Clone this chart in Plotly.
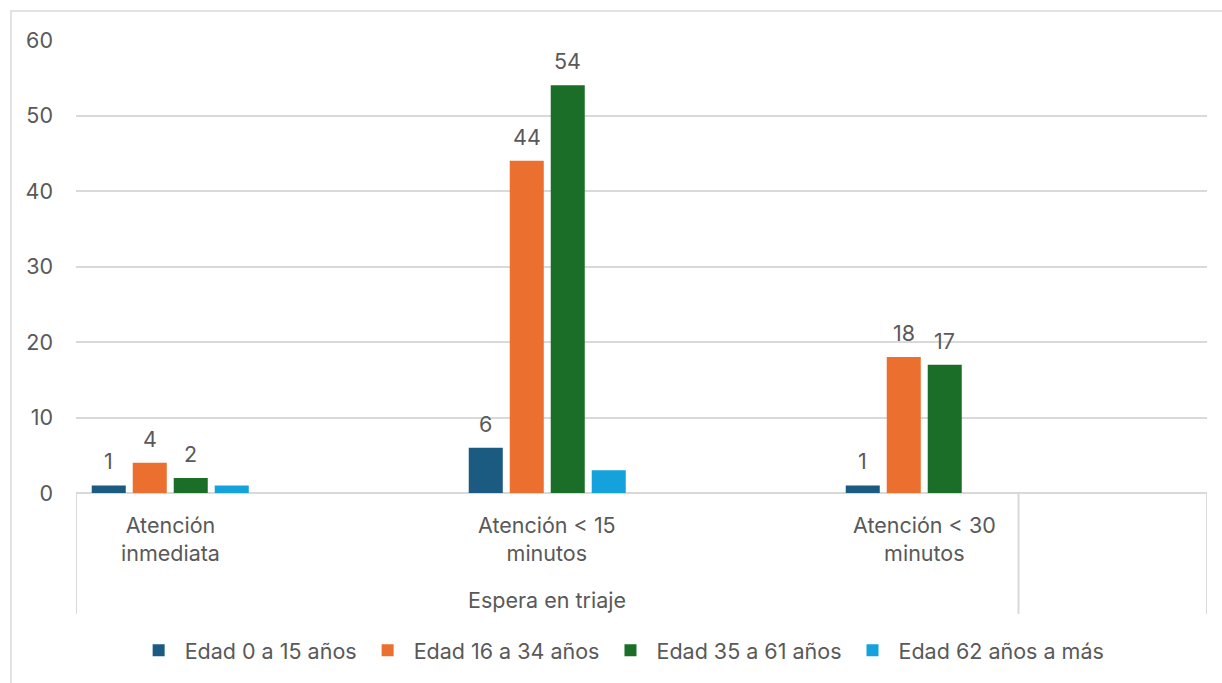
import plotly.graph_objects as go

categories = ["Atención<br>inmediata", "Atención < 15<br>minutos", "Atención < 30<br>minutos"]
parent_label = "Espera en triaje"
series_names = ["Edad 0 a 15 años", "Edad 16 a 34 años", "Edad 35 a 61 años", "Edad 62 años a más"]
values_0_15 = [1, 6, 1]
values_16_34 = [4, 44, 18]
values_35_61 = [2, 54, 17]
values_62_mas = [1, 3, 0]
show_labels = [True, True, True, False]
colors = ["#1b5b82", "#eb6f2f", "#1b6e27", "#14a2dd"]
y_ticks = [0, 10, 20, 30, 40, 50, 60]

series_values = [values_0_15, values_16_34, values_35_61, values_62_mas]

FONT = "Inter, Liberation Sans, Arial, sans-serif"
TXT = "#595959"
GRID = "#d9d9d9"
FS = 21.5

# categories are placed on every second slot (Excel leaves blank slots)
xpos = [2 * i for i in range(len(categories))]
n_slots = 2 * len(categories)
bargap = 0.565
bargroupgap = 0.17
slot = 2 * (1 - bargap) / len(series_names)

fig = go.Figure()
for j, (name, vals, col) in enumerate(zip(series_names, series_values, colors)):
    fig.add_trace(go.Bar(
        x=xpos, y=vals, name=name,
        marker=dict(color=col, line=dict(width=0)),
        hoverinfo="y+name",
    ))

annotations = []
# data labels
for j, vals in enumerate(series_values):
    if not show_labels[j]:
        continue
    for i, v in enumerate(vals):
        annotations.append(dict(
            x=xpos[i] + (j - (len(series_names) - 1) / 2) * slot, y=v,
            xref="x", yref="y", text=str(v), showarrow=False,
            yanchor="bottom", yshift=9,
            font=dict(family=FONT, size=FS, color=TXT),
        ))

# category labels
for i, c in enumerate(categories):
    annotations.append(dict(
        x=xpos[i], y=-0.038, xref="x", yref="paper", text=c, showarrow=False,
        yanchor="top", align="center",
        font=dict(family=FONT, size=FS, color=TXT),
    ))
# parent label
annotations.append(dict(
    x=(xpos[0] + xpos[-1]) / 2, y=-0.236, xref="x", yref="paper", text=parent_label,
    showarrow=False, yanchor="middle",
    font=dict(family=FONT, size=FS, color=TXT),
))

shapes = []
# outer chart border
shapes.append(dict(type="rect", xref="paper", yref="paper",
                   x0=-0.0575, x1=1.03, y0=-0.46, y1=1.064,
                   line=dict(color=GRID, width=1.5), layer="below"))
# multi-level axis dividers
for xv in [-0.5, xpos[-1] + 0.5, n_slots - 0.5]:
    shapes.append(dict(type="line", xref="x", yref="paper",
                       x0=xv, x1=xv, y0=0, y1=-0.267,
                       line=dict(color=GRID, width=2), layer="below"))

fig.update_layout(
    width=1222, height=683,
    margin=dict(l=76, r=15, t=40, b=190),
    paper_bgcolor="white", plot_bgcolor="white",
    barmode="group", bargap=bargap, bargroupgap=bargroupgap,
    font=dict(family=FONT, size=FS, color=TXT),
    showlegend=True,
    legend=dict(orientation="h", x=0.482, xanchor="center", y=-0.347, yanchor="middle",
                font=dict(family=FONT, size=FS, color=TXT), itemwidth=42,
                traceorder="normal"),
    annotations=annotations,
    shapes=shapes,
    xaxis=dict(range=[-0.5, n_slots - 0.5], showticklabels=False, showgrid=False,
               zeroline=False, showline=False, ticks=""),
    yaxis=dict(range=[0, 60], tickvals=y_ticks, showgrid=True, gridcolor=GRID, gridwidth=1.5,
               zeroline=True, zerolinecolor=GRID, zerolinewidth=2, showline=False,
               ticks="", ticklabelstandoff=22,
               tickfont=dict(family=FONT, size=FS, color=TXT)),
)

fig.write_html("out.html")
